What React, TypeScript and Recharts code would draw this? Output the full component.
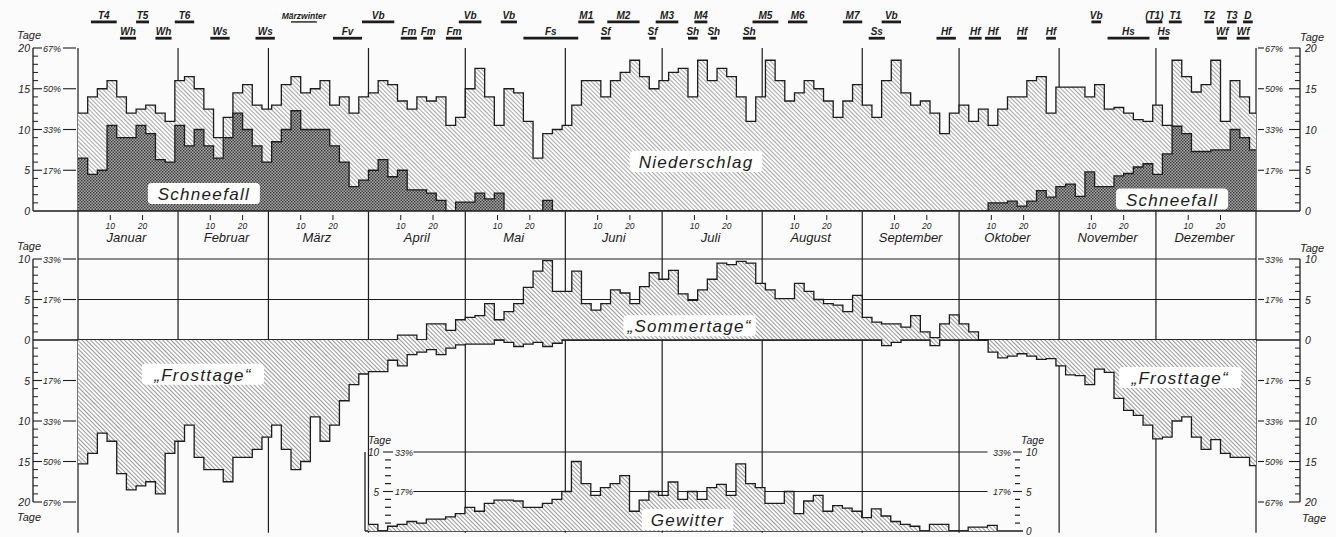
import React from 'react';
import { ComposedChart, Area, XAxis, YAxis, ReferenceLine, ReferenceDot } from 'recharts';

// --- calendar ---
const monthNames = ['Januar', 'Februar', 'März', 'April', 'Mai', 'Juni', 'Juli', 'August', 'September', 'Oktober', 'November', 'Dezember'];
const monthStarts = [0, 31, 59, 90, 120, 151, 181, 212, 243, 273, 304, 334];
const YEAR_DAYS = 365;
const BIN_DAYS = 3; // every value below covers 3 days

// --- Tage je Monat (3-Tage-Schritte, 122 Werte) ---
const niederschlag = [
  12, 14, 15, 16, 14, 12, 12.5, 13, 12, 11,
  16, 16.5, 15, 12.5, 9, 11.5, 14.5, 15.5, 13, 12.5,
  13, 15.5, 16.5, 14.5, 15, 16, 13, 14, 12, 14,
  14.5, 16, 15.5, 13.5, 12.5, 14, 13.5, 14, 10.5, 11.5,
  15, 17.5, 14, 10.5, 15, 14.5, 11, 6.5, 9.5, 10,
  10.5, 13, 16, 16, 14, 16, 17, 18.5, 16.5, 15,
  16, 17, 17.5, 14, 18.5, 16, 17.5, 16.5, 14, 11,
  14, 18.5, 16, 13.5, 14.5, 16, 15, 13.5, 11.5, 13.5,
  15.5, 13, 11.5, 16, 18.5, 14.5, 13, 13.5, 12, 9.5,
  12, 13, 11, 12.5, 10.5, 12.5, 14, 14, 16, 16.5,
  12, 15.2, 15.2, 15.2, 14, 15.5, 12.5, 12.7, 12, 11.2,
  11, 13, 10.5, 18.5, 16.5, 14.6, 15.5, 18.5, 11, 16,
  14, 12,
];

const schneefall = [
  6.5, 4.5, 5, 10.5, 9, 9, 10.5, 9.5, 6.3, 6,
  10.5, 8, 10, 8, 6.5, 9, 12, 10, 8, 6,
  8.5, 10, 12.3, 10, 10, 10, 8, 6, 3, 3.8,
  5, 6.3, 4.2, 5, 2.6, 2.6, 2.2, 1.3, 0, 1.1,
  1.1, 2.2, 1.5, 2.2, 0, 0, 0, 0, 1.3, 0,
  0, 0, 0, 0, 0, 0, 0, 0, 0, 0,
  0, 0, 0, 0, 0, 0, 0, 0, 0, 0,
  0, 0, 0, 0, 0, 0, 0, 0, 0, 0,
  0, 0, 0, 0, 0, 0, 0, 0, 0, 0,
  0, 0, 0, 0, 1, 1, 1.2, 0.6, 1.2, 2.5,
  1.7, 3, 3.3, 1.8, 4.8, 3, 3, 4.3, 4.6, 5.4,
  5.8, 4.5, 7, 10.4, 9.5, 7.3, 7.3, 7.5, 7.5, 10,
  9, 7.5,
];

const sommertage = [
  0, 0, 0, 0, 0, 0, 0, 0, 0, 0,
  0, 0, 0, 0, 0, 0, 0, 0, 0, 0,
  0, 0, 0, 0, 0, 0, 0, 0, 0, 0,
  0, 0, 0, 0.6, 0.6, 0, 2, 2, 1.2, 2.5,
  2.8, 3, 4.5, 2.5, 3.5, 4.5, 6.5, 8.5, 9.8, 6,
  6, 8.5, 4.5, 3.7, 4.5, 6.2, 5.8, 4.5, 6.6, 8.3,
  7.5, 8.6, 5.7, 4.9, 6.2, 7.5, 9.5, 9.3, 9.7, 9.5,
  7, 6.2, 5.1, 5.1, 7, 6, 5, 4.5, 4.3, 3.5,
  5.5, 2.8, 2.2, 2, 2, 1.6, 3, 1, 0.3, 2,
  3.1, 2, 1, 0, 0, 0, 0, 0, 0, 0,
  0, 0, 0, 0, 0, 0, 0, 0, 0, 0,
  0, 0, 0, 0, 0, 0, 0, 0, 0, 0,
  0, 0,
];

const frosttage = [
  15.3, 14, 11.5, 12.5, 16.5, 18.5, 18, 17.5, 19, 14,
  12.5, 10.5, 14.5, 16, 16, 17.5, 14.5, 14.5, 13.5, 12,
  10.5, 13.5, 16, 15, 9.5, 12.5, 10.5, 7.5, 5.5, 4.2,
  3.9, 3.9, 2.5, 3.2, 1.8, 1.5, 1.2, 1.8, 1, 0.6,
  0.5, 0.5, 0.5, 0, 0.3, 0.8, 0.5, 0.3, 0.8, 0.4,
  0, 0, 0, 0, 0, 0, 0, 0, 0, 0,
  0, 0, 0, 0, 0, 0, 0, 0, 0, 0,
  0, 0, 0, 0, 0, 0, 0, 0, 0, 0,
  0, 0, 0, 0.7, 0.3, 0, 0, 0, 0.7, 0,
  0, 0, 0, 0, 1.5, 2.2, 2, 1.7, 2, 2.4,
  2.3, 3.2, 4.3, 4.4, 5.5, 3.6, 4, 7.2, 8.7, 9.3,
  10.5, 12.2, 12, 10, 9.5, 12, 13.5, 12.3, 14, 14.5,
  14.5, 15.5,
];

const N = null;
const gewitter: (number | null)[] = [
  N, N, N, N, N, N, N, N, N, N,
  N, N, N, N, N, N, N, N, N, N,
  N, N, N, N, N, N, N, N, N, N,
  0.85, 0, 0.6, 0.85, 1.2, 1, 1.5, 1.5, 1.8, 2.2,
  3, 2.5, 3.5, 3.9, 3.9, 3.8, 3, 3, 3.5, 4,
  5, 8.8, 6, 4.5, 5.5, 6, 7, 2.5, 3.9, 5,
  4.5, 6.2, 4, 5, 4, 5.5, 5.9, 4.5, 8.5, 6,
  5.5, 3.5, 3.5, 5, 2.2, 3.8, 4.5, 2.5, 3.2, 2.9,
  2.5, 1.7, 2.8, 1.9, 1.2, 0.85, 0.6, 0, 0.85, 0.85,
  0, 0, 0.5, 0.5, 0.7, 0, N, N, N, N,
  N, N, N, N, N, N, N, N, N, N,
  N, N, N, N, N, N, N, N, N, N,
  N, N,
];

// Singularitäten: label, first day, last day, row (0 = upper, 1 = lower)
const singularities: [string, number, number, number][] = [
  ['T4', 4, 12, 0], ['T5', 18, 22, 0], ['T6', 30, 36, 0], ['Märzwinter', 66, 74, 0],
  ['Vb', 88, 98, 0], ['Vb', 118, 125, 0], ['Vb', 131, 136, 0], ['M1', 155, 160, 0],
  ['M2', 164, 174, 0], ['M3', 179, 186, 0], ['M4', 191, 195, 0], ['M5', 209, 217, 0],
  ['M6', 220, 226, 0], ['M7', 237, 243, 0], ['Vb', 249, 255, 0], ['Vb', 314, 317, 0],
  ['(T1)', 331, 336, 0], ['T1', 338, 342, 0], ['T2', 349, 352, 0], ['T3', 356, 359, 0], ['D', 361, 364, 0],
  ['Wh', 13, 18, 1], ['Wh', 24, 29, 1], ['Ws', 41, 47, 1], ['Ws', 55, 61, 1],
  ['Fv', 79, 88, 1], ['Fm', 100, 105, 1], ['Fm', 107, 110, 1], ['Fm', 114, 119, 1],
  ['Fs', 138, 155, 1], ['Sf', 162, 165, 1], ['Sf', 177, 179, 1], ['Sh', 189, 192, 1],
  ['Sh', 196, 198, 1], ['Sh', 206, 210, 1], ['Ss', 245, 250, 1], ['Hf', 266, 272, 1],
  ['Hf', 276, 280, 1], ['Hf', 281, 286, 1], ['Hf', 291, 294, 1], ['Hf', 300, 303, 1],
  ['Hs', 319, 332, 1], ['Hs', 335, 338, 1], ['Wf', 353, 356, 1], ['Wf', 359, 363, 1],
];

// --- rows for recharts ---
const rows = niederschlag.map((v, i) => ({
  day: i * BIN_DAYS,
  nied: v,
  schnee: schneefall[i],
  sommer: sommertage[i],
  frost: -frosttage[i],
  gew: gewitter[i],
}));
rows.push({ ...rows[rows.length - 1], day: YEAR_DAYS });
const gewRows = rows.filter((r) => r.gew !== null);

const monthBounds = [...monthStarts, YEAR_DAYS];
const xTicks: number[] = [];
const xTickText = new Map<number, string>();
monthStarts.forEach((s, i) => {
  xTicks.push(s + 10, s + 15, s + 20);
  xTickText.set(s + 10, '10');
  xTickText.set(s + 15, monthNames[i]);
  xTickText.set(s + 20, '20');
});

const W = 1336;
const H = 537;
const INK = '#1c1c1c';
const PAPER = '#fbfbfb';
const FONT = "'Liberation Sans', Arial, sans-serif";
const txt = { fontFamily: FONT, fontStyle: 'italic' as const, fill: INK };

const range = (a: number, b: number) => Array.from({ length: b - a + 1 }, (_, i) => a + i);

const patterns = (p: string) => (
  <defs>
    <pattern id={`${p}-rain`} width={3} height={3} patternUnits="userSpaceOnUse" patternTransform="rotate(-45)">
      <rect width={3} height={3} fill={PAPER} />
      <line x1={0} y1={0} x2={0} y2={3} stroke="#707070" strokeWidth={1.2} />
    </pattern>
    <pattern id={`${p}-snow`} width={3} height={3} patternUnits="userSpaceOnUse">
      <rect width={3} height={3} fill="#a8a8a8" />
      <rect width={1.4} height={1.4} fill="#333" />
      <rect x={1.5} y={1.5} width={1.4} height={1.4} fill="#333" />
    </pattern>
    <pattern id={`${p}-hatch`} width={3} height={3} patternUnits="userSpaceOnUse" patternTransform="rotate(-45)">
      <rect width={3} height={3} fill={PAPER} />
      <line x1={0} y1={0} x2={0} y2={3} stroke="#5a5a5a" strokeWidth={1.2} />
    </pattern>
  </defs>
);

// y-axis ticks for the two wide panels
const PanelTick = (props: any) => {
  const { x, y, payload, cfg } = props;
  const v: number = payload.value;
  const major = v % 5 === 0;
  const pct = `${Math.round((Math.abs(v) / 30) * 100)}%`;
  const els: React.ReactNode[] = [];
  if (cfg.side === 'left') {
    const ax = x - 45;
    if (v === cfg.max) {
      els.push(<line key="ax" x1={ax} x2={ax} y1={y} y2={y + cfg.plotH} stroke={INK} strokeWidth={1.3} />);
      els.push(<text key="tt" x={ax - 16} y={y - 9} fontSize={11} {...txt}>Tage</text>);
    }
    if (cfg.tageBottom && v === cfg.min) {
      els.push(<text key="tb" x={ax - 16} y={y + 19} fontSize={11} {...txt}>Tage</text>);
    }
    if (v === 0) {
      els.push(<line key="z" x1={ax} x2={x} y1={y} y2={y} stroke={INK} strokeWidth={1.3} />);
    } else if (major) {
      els.push(<line key="r" x1={ax} x2={ax + 9} y1={y} y2={y} stroke={INK} strokeWidth={1.1} />);
      els.push(<text key="p" x={ax + 10} y={y + 3.5} fontSize={9} {...txt}>{pct}</text>);
      els.push(<line key="d" x1={x - 15} x2={x - 2} y1={y} y2={y} stroke={INK} strokeWidth={1.1} />);
    } else {
      els.push(<line key="r" x1={ax} x2={ax + 5} y1={y} y2={y} stroke={INK} strokeWidth={1} />);
    }
    if (major) els.push(<text key="n" x={ax - 3} y={y + 4} fontSize={10.5} textAnchor="end" {...txt}>{Math.abs(v)}</text>);
  } else {
    const ax = x + 44;
    if (v === cfg.max) {
      els.push(<line key="ax" x1={ax} x2={ax} y1={y} y2={y + cfg.plotH} stroke={INK} strokeWidth={1.3} />);
      els.push(<text key="tt" x={ax} y={y - 7} fontSize={11} {...txt}>Tage</text>);
    }
    if (cfg.tageBottom && v === cfg.min) {
      els.push(<text key="tb" x={ax + 2} y={y + 20} fontSize={11} {...txt}>Tage</text>);
    }
    if (v === 0) {
      els.push(<line key="z" x1={x} x2={ax} y1={y} y2={y} stroke={INK} strokeWidth={1.3} />);
    } else if (major) {
      els.push(<line key="d" x1={x + 2} x2={x + 8} y1={y} y2={y} stroke={INK} strokeWidth={1.1} />);
      els.push(<text key="p" x={x + 9} y={y + 3.5} fontSize={9} {...txt}>{pct}</text>);
      els.push(<line key="r" x1={ax - 11} x2={ax} y1={y} y2={y} stroke={INK} strokeWidth={1.1} />);
    } else {
      els.push(<line key="r" x1={ax - 5} x2={ax} y1={y} y2={y} stroke={INK} strokeWidth={1} />);
    }
    if (major) els.push(<text key="n" x={ax + 5} y={y + 4} fontSize={10.5} {...txt}>{Math.abs(v)}</text>);
  }
  return <g>{els}</g>;
};

// y-axis ticks for the Gewitter panel (drawn inside)
const GewTick = (props: any) => {
  const { x, y, payload, side } = props;
  const v: number = payload.value;
  const major = v !== 0 && v % 5 === 0;
  const pct = `${Math.round((v / 30) * 100)}%`;
  const els: React.ReactNode[] = [];
  if (side === 'left') {
    if (v === 10) els.push(<text key="tt" x={x + 3} y={y - 8} fontSize={10.5} {...txt}>Tage</text>);
    if (major) {
      els.push(<text key="n" x={x + 14} y={y + 4} fontSize={10} textAnchor="end" {...txt}>{v}</text>);
      els.push(<line key="d" x1={x + 18} x2={x + 28} y1={y} y2={y} stroke={INK} strokeWidth={1.1} />);
      els.push(<text key="p" x={x + 30} y={y + 3.5} fontSize={9} {...txt}>{pct}</text>);
    } else if (v !== 0) {
      els.push(<line key="r" x1={x + 20} x2={x + 26} y1={y} y2={y} stroke={INK} strokeWidth={1.2} />);
    }
  } else {
    if (v === 10) els.push(<text key="tt" x={x - 2} y={y - 8} fontSize={10.5} {...txt}>Tage</text>);
    if (major) {
      els.push(<text key="p" x={x - 12} y={y + 3.5} fontSize={9} textAnchor="end" {...txt}>{pct}</text>);
      els.push(<line key="d" x1={x - 10} x2={x - 1} y1={y} y2={y} stroke={INK} strokeWidth={1.1} />);
    } else if (v !== 0) {
      els.push(<line key="r" x1={x - 8} x2={x - 3} y1={y} y2={y} stroke={INK} strokeWidth={1.2} />);
    }
    if (v % 5 === 0) els.push(<text key="n" x={x + 3} y={y + 4} fontSize={10} {...txt}>{v}</text>);
  }
  return <g>{els}</g>;
};

const XTick = (props: any) => {
  const { x, y, payload } = props;
  const t = xTickText.get(payload.value) || '';
  if (t === '10' || t === '20') {
    return (
      <g>
        <line x1={x} x2={x} y1={y + 4} y2={y + 9} stroke={INK} strokeWidth={1} />
        <text x={x} y={y + 18} fontSize={8.5} textAnchor="middle" {...txt}>{t}</text>
      </g>
    );
  }
  return <text x={x} y={y + 31} fontSize={13} textAnchor="middle" {...txt}>{t}</text>;
};

const BoxLabel = (props: any) => {
  const { viewBox, text } = props;
  const cx = viewBox.x + (viewBox.width || 0) / 2;
  const cy = viewBox.y + (viewBox.height || 0) / 2;
  const w = text.length * 10.2 + 10;
  return (
    <g>
      <rect x={cx - w / 2} y={cy - 11} width={w} height={21} rx={4} fill="#fff" />
      <text x={cx} y={cy + 6} fontSize={17} textAnchor="middle" letterSpacing={1.3} {...txt}>{text}</text>
    </g>
  );
};

const layer: React.CSSProperties = { position: 'absolute', left: 0, top: 0 };

const TOP = { top: 48, right: 80, bottom: H - 211, left: 78 };
const MID = { top: 259, right: 80, bottom: H - 502, left: 78 };
const BOT = { top: 452, right: W - 1023, bottom: H - 531, left: 365 };
const ROW_Y = [23.2, 21.2];
const line = { stroke: INK, strokeWidth: 1.2 };

export default function App() {
  return (
    <div style={{ position: 'absolute', left: 0, top: 0, width: W, height: H, background: PAPER, overflow: 'hidden' }}>
      {/* background layers: month lines and grid lines */}
      <div style={layer}>
        <ComposedChart width={W} height={H} data={rows} margin={TOP}>
          <XAxis dataKey="day" type="number" domain={[0, YEAR_DAYS]} hide />
          <YAxis yAxisId="l" type="number" domain={[0, 20]} allowDataOverflow hide />
          {monthBounds.map((d) => (
            <ReferenceLine key={d} yAxisId="l" x={d} {...line} />
          ))}
        </ComposedChart>
      </div>
      <div style={layer}>
        <ComposedChart width={W} height={H} data={rows} margin={MID}>
          <XAxis dataKey="day" type="number" domain={[0, YEAR_DAYS]} hide />
          <YAxis yAxisId="l" type="number" domain={[-20, 10]} allowDataOverflow hide />
          {monthBounds.map((d) => (
            <ReferenceLine key={d} yAxisId="l" ifOverflow="visible" segment={[{ x: d, y: 15.9 }, { x: d, y: -23.8 }]} {...line} />
          ))}
          <ReferenceLine yAxisId="l" y={10} {...line} />
          <ReferenceLine yAxisId="l" y={5} {...line} />
          <ReferenceLine yAxisId="l" y={0} stroke={INK} strokeWidth={1.4} />
        </ComposedChart>
      </div>
      <div style={layer}>
        <ComposedChart width={W} height={H} data={gewRows} margin={BOT}>
          <XAxis dataKey="day" type="number" domain={[89, 293]} allowDataOverflow hide />
          <YAxis yAxisId="l" type="number" domain={[0, 10]} allowDataOverflow hide />
          <ReferenceLine yAxisId="l" segment={[{ x: 104, y: 10 }, { x: 282, y: 10 }]} {...line} />
          <ReferenceLine yAxisId="l" segment={[{ x: 104, y: 5 }, { x: 282, y: 5 }]} {...line} />
          <ReferenceLine yAxisId="l" y={0} stroke={INK} strokeWidth={1.4} />
        </ComposedChart>
      </div>

      {/* Niederschlag / Schneefall */}
      <div style={layer}>
        <ComposedChart width={W} height={H} data={rows} margin={{ top: 48, right: 0, bottom: H - 211 - 40, left: 0 }}>
          {patterns('a')}
          <XAxis
            dataKey="day"
            type="number"
            domain={[0, YEAR_DAYS]}
            ticks={xTicks}
            interval={0}
            height={40}
            tickSize={0}
            tickMargin={0}
            tickLine={false}
            axisLine={{ stroke: INK, strokeWidth: 1.4 }}
            tick={<XTick />}
          />
          <YAxis yAxisId="l" orientation="left" width={78} type="number" domain={[0, 20]} allowDataOverflow ticks={range(0, 20)} interval={0}
            tickSize={0} tickMargin={0} tickLine={false} axisLine={false} tick={<PanelTick cfg={{ side: 'left', max: 20, min: 0, plotH: 163 }} />} />
          <YAxis yAxisId="r" orientation="right" width={80} type="number" domain={[0, 20]} allowDataOverflow ticks={range(0, 20)} interval={0}
            tickSize={0} tickMargin={0} tickLine={false} axisLine={false} tick={<PanelTick cfg={{ side: 'right', max: 20, min: 0, plotH: 163 }} />} />
          <Area yAxisId="l" type="stepAfter" dataKey="nied" baseValue={0} fill="url(#a-rain)" fillOpacity={1} stroke={INK} strokeWidth={1.3} isAnimationActive={false} />
          <Area yAxisId="l" type="stepAfter" dataKey="schnee" baseValue={0} fill="url(#a-snow)" fillOpacity={1} stroke={INK} strokeWidth={1.3} isAnimationActive={false} />
          {singularities.map(([name, a, b, row], i) => (
            <ReferenceLine
              key={i}
              yAxisId="l"
              ifOverflow="visible"
              segment={[{ x: a, y: ROW_Y[row] }, { x: b, y: ROW_Y[row] }]}
              stroke={INK}
              strokeWidth={name.length > 4 ? 1.4 : 2.8}
              label={{ value: name, position: 'top', offset: 3, fontSize: name.length > 4 ? 8.5 : 10, fontStyle: 'italic', fontWeight: 'bold', fill: INK, fontFamily: FONT }}
            />
          ))}
          <ReferenceDot yAxisId="l" x={39} y={2.1} r={1} fill="none" stroke="none" label={<BoxLabel text="Schneefall" />} />
          <ReferenceDot yAxisId="l" x={339} y={1.4} r={1} fill="none" stroke="none" label={<BoxLabel text="Schneefall" />} />
          <ReferenceDot yAxisId="l" x={191.5} y={6} r={1} fill="none" stroke="none" label={<BoxLabel text="Niederschlag" />} />
        </ComposedChart>
      </div>

      {/* Sommertage / Frosttage */}
      <div style={layer}>
        <ComposedChart width={W} height={H} data={rows} margin={{ top: 259, right: 0, bottom: H - 502, left: 0 }}>
          {patterns('b')}
          <XAxis dataKey="day" type="number" domain={[0, YEAR_DAYS]} hide />
          <YAxis yAxisId="l" orientation="left" width={78} type="number" domain={[-20, 10]} allowDataOverflow ticks={range(-20, 10)} interval={0}
            tickSize={0} tickMargin={0} tickLine={false} axisLine={false}
            tick={<PanelTick cfg={{ side: 'left', max: 10, min: -20, plotH: 243, tageBottom: true }} />} />
          <YAxis yAxisId="r" orientation="right" width={80} type="number" domain={[-20, 10]} allowDataOverflow ticks={range(-20, 10)} interval={0}
            tickSize={0} tickMargin={0} tickLine={false} axisLine={false}
            tick={<PanelTick cfg={{ side: 'right', max: 10, min: -20, plotH: 243, tageBottom: true }} />} />
          <Area yAxisId="l" type="stepAfter" dataKey="sommer" baseValue={0} fill="url(#b-hatch)" fillOpacity={1} stroke={INK} strokeWidth={1.3} isAnimationActive={false} />
          <Area yAxisId="l" type="stepAfter" dataKey="frost" baseValue={0} fill="url(#b-hatch)" fillOpacity={1} stroke={INK} strokeWidth={1.3} isAnimationActive={false} />
          <ReferenceDot yAxisId="l" x={189.5} y={1.7} r={1} fill="none" stroke="none" label={<BoxLabel text={'\u201ESommertage\u201C'} />} />
          <ReferenceDot yAxisId="l" x={38.7} y={-4.3} r={1} fill="none" stroke="none" label={<BoxLabel text={'\u201EFrosttage\u201C'} />} />
          <ReferenceDot yAxisId="l" x={341.5} y={-4.7} r={1} fill="none" stroke="none" label={<BoxLabel text={'\u201EFrosttage\u201C'} />} />
        </ComposedChart>
      </div>

      {/* Gewitter */}
      <div style={layer}>
        <ComposedChart width={W} height={H} data={gewRows} margin={BOT}>
          {patterns('c')}
          <XAxis dataKey="day" type="number" domain={[89, 293]} allowDataOverflow hide />
          <YAxis yAxisId="l" orientation="left" mirror type="number" domain={[0, 10]} allowDataOverflow ticks={range(0, 10)} interval={0}
            tickSize={0} tickMargin={0} tickLine={false} axisLine={{ stroke: INK, strokeWidth: 1.3 }} tick={<GewTick side="left" />} />
          <YAxis yAxisId="r" orientation="right" mirror type="number" domain={[0, 10]} allowDataOverflow ticks={range(0, 10)} interval={0}
            tickSize={0} tickMargin={0} tickLine={false} axisLine={false} tick={<GewTick side="right" />} />
          <Area yAxisId="l" type="stepAfter" dataKey="gew" baseValue={0} fill="url(#c-hatch)" fillOpacity={1} stroke={INK} strokeWidth={1.3} isAnimationActive={false} />
          <ReferenceDot yAxisId="l" x={189} y={1.4} r={1} fill="none" stroke="none" label={<BoxLabel text="Gewitter" />} />
        </ComposedChart>
      </div>
    </div>
  );
}
